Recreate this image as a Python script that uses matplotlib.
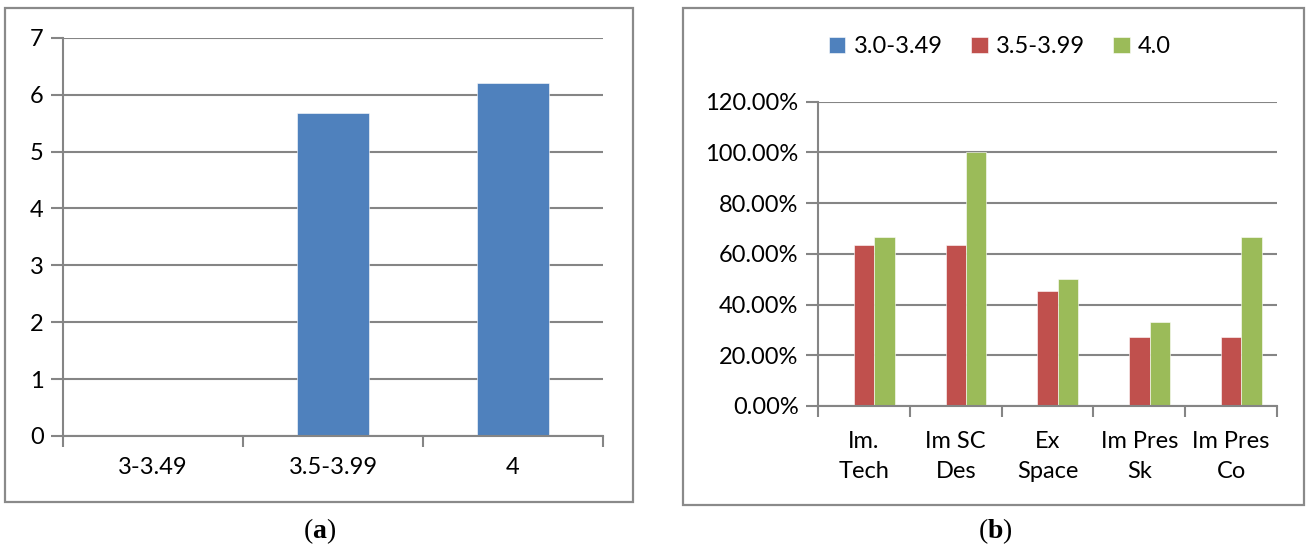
import matplotlib.pyplot as plt
from matplotlib.patches import Rectangle
from matplotlib.ticker import FuncFormatter, FixedLocator
import numpy as np

# data
gpa_groups = ["3-3.49", "3.5-3.99", "4"]
gpa_values = [0, 5.67, 6.2]

skills = ["Im.\nTech", "Im SC\nDes", "Ex\nSpace", "Im Pres\nSk", "Im Pres\nCo"]
series_names = ["3.0-3.49", "3.5-3.99", "4.0"]
s_low = [0, 0, 0, 0, 0]
s_mid = [0.636, 0.636, 0.455, 0.273, 0.273]
s_high = [0.667, 1.0, 0.50, 0.333, 0.667]

colors = ["#4F81BD", "#C0504D", "#9BBB59"]
grid_c = "#858585"
font = "Lato"
fs = 17

plt.rcParams["mathtext.fontset"] = "custom"
plt.rcParams["mathtext.rm"] = "Liberation Serif"
plt.rcParams["mathtext.bf"] = "Liberation Serif:bold"

W, H = 1309, 553
fig = plt.figure(figsize=(W / 100, H / 100), dpi=100)


def px_axes(x0, y0, x1, y1):
    # pixel box (top-left origin) -> figure axes
    return fig.add_axes([x0 / W, 1 - y1 / H, (x1 - x0) / W, (y1 - y0) / H])


def frame(x0, y0, x1, y1):
    fig.patches.append(Rectangle((x0 / W, 1 - y1 / H), (x1 - x0) / W, (y1 - y0) / H,
                                 transform=fig.transFigure, fill=False,
                                 edgecolor="#8a8a8a", lw=1.6))


def style(ax, xpad):
    for s in ["top", "right"]:
        ax.spines[s].set_visible(False)
    for s in ["left", "bottom"]:
        ax.spines[s].set_color(grid_c)
        ax.spines[s].set_linewidth(1.5)
    ax.yaxis.grid(True, color=grid_c, lw=1.5)
    ax.set_axisbelow(True)
    ax.tick_params(axis="y", length=9, width=1.5, color=grid_c, labelsize=fs, pad=5)
    ax.tick_params(axis="x", which="major", length=0, labelsize=fs, pad=xpad)
    ax.tick_params(axis="x", which="minor", length=8, width=1.5, color=grid_c)
    for lab in ax.get_xticklabels() + ax.get_yticklabels():
        lab.set_fontfamily(font)


# (a)
frame(5, 8, 633, 502)
ax1 = px_axes(63, 37.7, 603, 436)
x = np.arange(len(gpa_groups))
ax1.bar(x, gpa_values, width=0.4, color=colors[0], edgecolor="#ffffff", lw=0.4)
ax1.set_xlim(-0.5, len(gpa_groups) - 0.5)
ax1.set_ylim(0, 7)
ax1.set_yticks(range(0, 8))
ax1.set_xticks(x)
ax1.set_xticklabels(gpa_groups)
ax1.xaxis.set_minor_locator(FixedLocator(np.arange(-0.5, len(gpa_groups), 1.0)))
style(ax1, 15)

# (b)
frame(683, 8, 1304, 505)
ax2 = px_axes(818, 101.7, 1277, 406)
x2 = np.arange(len(skills))
bw = 1 / 4.5
for k, (vals, name) in enumerate(zip([s_low, s_mid, s_high], series_names)):
    ax2.bar(x2 + (k - 1) * bw, vals, width=bw, color=colors[k], edgecolor="#ffffff",
            lw=0.4, label=name)
ax2.set_xlim(-0.5, len(skills) - 0.5)
ax2.set_ylim(0, 1.2)
ax2.set_yticks(np.arange(0, 1.21, 0.2))
ax2.yaxis.set_major_formatter(FuncFormatter(lambda v, p: f"{v * 100:.2f}%"))
ax2.set_xticks(x2)
ax2.set_xticklabels(skills, linespacing=1.5)
ax2.xaxis.set_minor_locator(FixedLocator(np.arange(-0.5, len(skills), 1.0)))
style(ax2, 18)

leg = fig.legend(loc="center", bbox_to_anchor=(1000 / W, 1 - 47 / H), ncol=3,
                 frameon=False, prop={"family": font, "size": fs},
                 handlelength=0.7, handleheight=0.7, handletextpad=0.35,
                 columnspacing=1.2)

fig.text(320 / W, 1 - 531 / H, r"($\mathbf{a}$)", ha="center", va="center",
         family="Liberation Serif", fontsize=20)
fig.text(995 / W, 1 - 531 / H, r"($\mathbf{b}$)", ha="center", va="center",
         family="Liberation Serif", fontsize=20)

plt.savefig("out.png", dpi=100)
